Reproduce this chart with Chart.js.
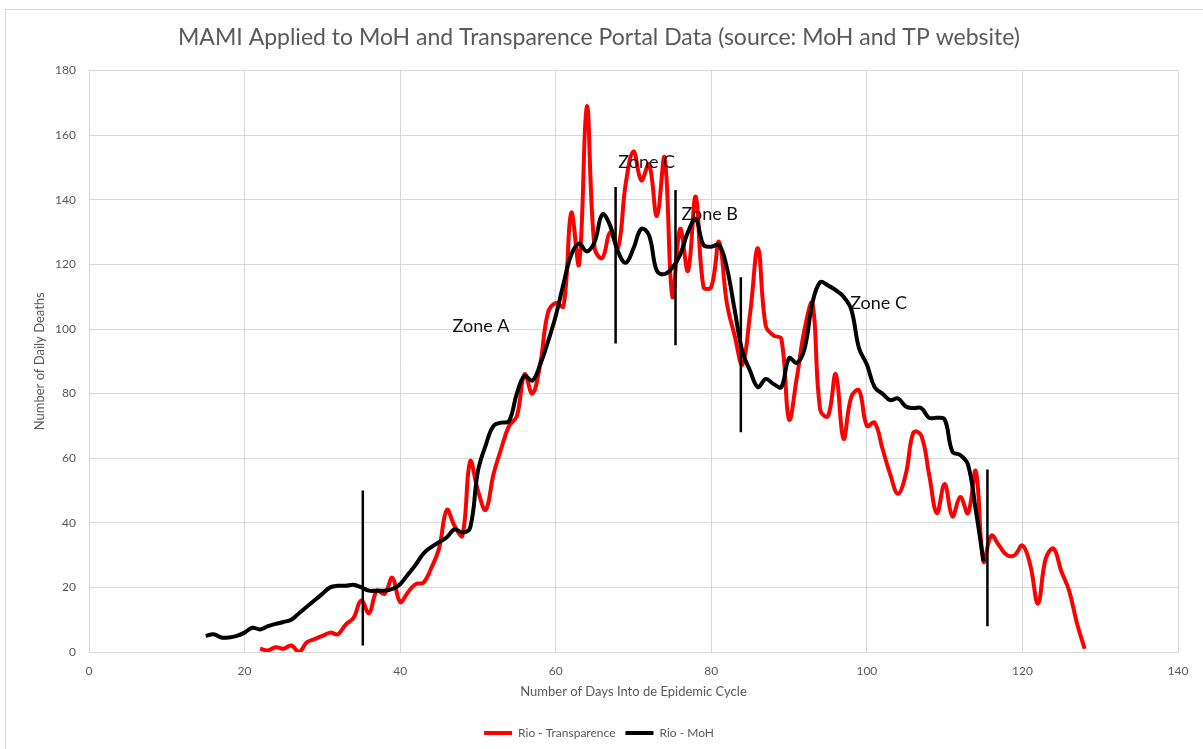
<!DOCTYPE html>
<html>
<head>
<meta charset="utf-8">
<script src="https://cdn.jsdelivr.net/npm/chart.js@4/dist/chart.umd.min.js"></script>
<style>
  body { margin: 0; background: #fff; }
  #frame { position: absolute; left: 5px; top: 9px; width: 1220px; height: 760px; border: 1px solid #d9d9d9; }
  #wrap { position: absolute; left: 0; top: 0; width: 1203px; height: 749px; }
</style>
</head>
<body>
<div id="frame"></div>
<div id="wrap"><canvas id="myChart" width="1203" height="749"></canvas></div>
<script>
// Rio - Transparence (red)
const transDays = [22, 23, 24, 25, 26, 27, 28, 29, 30, 31, 32, 33, 34, 35, 36, 37, 38, 39, 40,
  41, 42, 43, 44, 45, 46, 47, 48, 49, 50, 51, 52, 53, 54, 55, 56, 57, 58, 59, 60,
  61, 62, 63, 64, 65, 66, 67, 68, 69, 70, 71, 72, 73, 74, 75, 76, 77, 78, 79, 80,
  81, 82, 83, 84, 85, 86, 87, 88, 89, 90, 91, 92, 93, 94, 95, 96, 97, 98, 99, 100,
  101, 102, 103, 104, 105, 106, 107, 108, 109, 110, 111, 112, 113, 114, 115, 116, 117, 118, 119, 120,
  121, 122, 123, 124, 125, 126, 127, 128];
const transValues = [1, 0.5, 1.5, 1, 2, 0, 3, 4, 5, 6, 5.5, 8.5, 10.5, 16, 12, 19, 18, 23, 15.5,
  18.5, 21, 21.5, 26, 32, 44, 39, 36, 59, 50, 44, 55, 63, 70, 73, 86, 80, 89, 105, 108,
  107, 136, 120, 169, 125, 122, 130, 125, 145, 155, 146, 151, 135, 153, 110, 131, 118, 141, 113, 113,
  127, 108, 98, 89, 105, 125, 101, 98, 97, 72, 85, 100, 108, 75, 73, 86, 66, 79, 81, 70,
  71, 63, 55, 49, 55, 68, 67, 55, 43, 52, 42, 48, 43, 56, 28, 36, 33, 30, 30, 33,
  27, 15, 29, 32, 25, 19, 9, 1];

// Rio - MoH (black)
const mohDays = [15, 16, 17, 18, 19, 20, 21, 22, 23, 24, 25, 26, 27, 28, 29, 30, 31, 32, 33, 34, 35,
  36, 37, 38, 39, 40, 41, 42, 43, 44, 45, 46, 47, 48, 49, 50, 51, 52, 53, 54, 55,
  56, 57, 58, 59, 60, 61, 62, 63, 64, 65, 66, 67, 68, 69, 70, 71, 72, 73, 74, 75,
  76, 77, 78, 79, 80, 81, 82, 83, 84, 85, 86, 87, 88, 89, 90, 91, 92, 93, 94, 95,
  96, 97, 98, 99, 100, 101, 102, 103, 104, 105, 106, 107, 108, 109, 110, 111, 112, 113, 114, 115];
const mohValues = [5, 5.5, 4.5, 4.5, 5, 6, 7.5, 7, 8, 8.7, 9.3, 10, 12, 14, 16, 18, 20, 20.5, 20.5, 20.8, 20,
  19, 19, 19, 19.5, 21, 24, 27, 30.5, 32.5, 34, 35.5, 38, 37, 38.5, 56, 64, 70, 71, 71.5, 80,
  85.5, 84, 89, 96, 104, 114, 123, 126.5, 124, 127, 135.5, 132, 124, 120.5, 125, 131, 129, 118, 117, 119,
  123, 130, 134, 126, 125.5, 126, 119, 106, 93, 87, 82, 84.5, 83, 82, 91, 89.5, 94, 108, 114.5, 113.5,
  112, 110, 106, 94, 89, 82, 80, 78, 78.5, 76, 75.5, 75.5, 72.5, 72.5, 72, 62, 61, 58, 44, 28];

// Zone markers (vertical segments) and their labels
const zoneLineX = [35.2, 67.7, 75.4, 83.8, 115.5];
const zoneLineTop = [50, 144, 143, 116, 56.5];
const zoneLineBottom = [2, 95.5, 95, 68, 8];
const zoneLabels = ["Zone A", "Zone C", "Zone B", "Zone C"];
const zoneLabelX = [50.4, 71.7, 79.8, 101.5];
const zoneLabelY = [101, 151.5, 135.5, 108];

// Axis ticks
const xTicks = [0, 20, 40, 60, 80, 100, 120, 140];
const yTicks = [0, 20, 40, 60, 80, 100, 120, 140, 160, 180];

const ctx = document.getElementById("myChart");
const fontName = "Lato, 'Open Sans', sans-serif";
const grey = "#595959";

const toPoints = (xs, ys) => xs.map((x, i) => ({ x: x, y: ys[i] }));

const zoneSets = zoneLineX.map((x, i) => ({
  label: "zone" + i,
  data: [{ x: x, y: zoneLineTop[i] }, { x: x, y: zoneLineBottom[i] }],
  borderColor: "#000",
  borderWidth: 2.5,
  pointRadius: 0,
  tension: 0,
  order: 1,
}));

// Draw the zone names on top of the lines
const zoneText = {
  id: "zoneText",
  afterDatasetsDraw(chart) {
    const c = chart.ctx;
    const { x, y } = chart.scales;
    c.save();
    c.font = "18px " + fontName;
    c.fillStyle = "#111";
    c.textAlign = "center";
    c.textBaseline = "middle";
    zoneLabels.forEach((t, i) => {
      c.fillText(t, x.getPixelForValue(zoneLabelX[i]), y.getPixelForValue(zoneLabelY[i]));
    });
    c.restore();
  },
};

const data = {
  datasets: [
    {
      label: "Rio - Transparence",
      data: toPoints(transDays, transValues),
      borderColor: "#ff0000",
      backgroundColor: "#ff0000",
      borderWidth: 4,
      pointRadius: 0,
      tension: 0.4,
      order: 3,
    },
    {
      label: "Rio - MoH",
      data: toPoints(mohDays, mohValues),
      borderColor: "#000000",
      backgroundColor: "#000000",
      borderWidth: 4,
      pointRadius: 0,
      tension: 0.4,
      order: 2,
    },
  ].concat(zoneSets),
};

const config = {
  type: "line",
  data: data,
  options: {
    responsive: false,
    animation: false,
    layout: { padding: { left: 20, right: 25, top: 0, bottom: 0 } },
    plugins: {
      title: {
        display: true,
        text: "MAMI Applied to MoH and Transparence Portal Data (source: MoH and TP website)",
        color: grey,
        font: { family: fontName, size: 23, weight: "normal" },
        padding: { top: 24, bottom: 19 },
      },
      legend: {
        position: "bottom",
        labels: {
          color: grey,
          font: { family: fontName, size: 12 },
          usePointStyle: true,
          pointStyle: "line",
          pointStyleWidth: 28,
          padding: 10,
          filter: (item) => !item.text.startsWith("zone"),
          sort: (a, b) => a.datasetIndex - b.datasetIndex,
        },
      },
      tooltip: { enabled: false },
    },
    scales: {
      x: {
        type: "linear",
        min: 0,
        max: 140,
        afterBuildTicks: (scale) => {
          scale.ticks = xTicks.map((v) => ({ value: v }));
        },
        afterFit: (scale) => {
          scale.height = 65;
        },
        grid: { color: "#d9d9d9", drawTicks: false },
        border: { color: "#d9d9d9" },
        ticks: { color: grey, font: { family: fontName, size: 12 }, padding: 12 },
        title: {
          display: true,
          text: "Number of Days Into de Epidemic Cycle",
          color: grey,
          font: { family: fontName, size: 13 },
          padding: { top: 4, bottom: 17 },
        },
      },
      y: {
        min: 0,
        max: 180,
        afterBuildTicks: (scale) => {
          scale.ticks = yTicks.map((v) => ({ value: v }));
        },
        afterFit: (scale) => {
          scale.width = 69;
        },
        grid: { color: "#d9d9d9", drawTicks: false },
        border: { display: false },
        ticks: { color: grey, font: { family: fontName, size: 12 }, padding: 13 },
        title: {
          display: true,
          text: "Number of Daily Deaths",
          color: grey,
          font: { family: fontName, size: 13 },
          padding: { top: 12, bottom: 4 },
        },
      },
    },
  },
  plugins: [zoneText],
};

const myChart = new Chart(ctx, config);
</script>
</body>
</html>
